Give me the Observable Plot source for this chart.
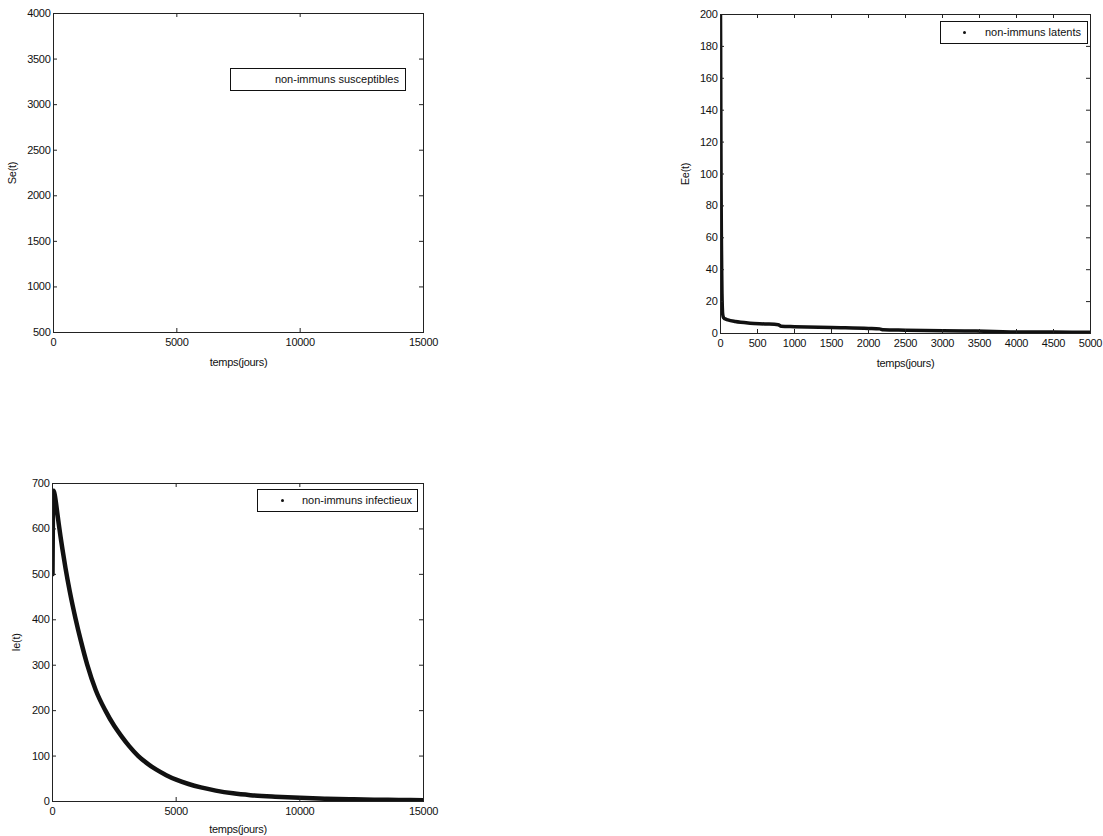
<!DOCTYPE html>
<html>
<head>
<meta charset="utf-8">
<script src="https://cdn.jsdelivr.net/npm/d3@7"></script>
<script src="https://cdn.jsdelivr.net/npm/@observablehq/plot@0.6"></script>
<style>
  html, body { margin: 0; padding: 0; background: #fff; }
  #page { position: relative; width: 1103px; height: 836px; background: #fff; font-family: "Liberation Sans", Arial, sans-serif; color: #111; overflow: hidden; }
  .panel { position: absolute; }
  .legend { position: absolute; border: 1px solid #111; background: #fff; box-sizing: border-box; font-size: 11px; line-height: 21px; white-space: nowrap; }
  .legend .dot { position: absolute; width: 3px; height: 3px; border-radius: 50%; background: #111; top: 9px; }
  .legend .txt { position: absolute; top: 0; }
</style>
</head>
<body>
<div id="page"></div>
<script>
// ---------- data ----------
// Se(t): non-immuns susceptibles (no visible curve inside the axes range)
const seTime = [];
const seValues = [];
const seXTicks = [0, 5000, 10000, 15000];
const seYTicks = [500, 1000, 1500, 2000, 2500, 3000, 3500, 4000];

// Ee(t): non-immuns latents
const eeTime   = [0, 2, 5, 8, 12, 16, 20, 25, 30, 40, 50, 70, 100, 200, 400, 600, 780, 820, 1000, 1500, 2000, 2150, 2200, 2500, 3000, 3300, 3700, 4000, 4500, 5000];
const eeValues = [200, 180, 130, 90, 60, 40, 25, 16, 12, 10, 9.5, 9, 8.5, 7.5, 6.5, 6, 5.5, 4.6, 4.3, 3.7, 3.2, 2.9, 2.3, 2.1, 1.8, 1.6, 1.3, 1.0, 0.9, 0.8];
const eeXTicks = [0, 500, 1000, 1500, 2000, 2500, 3000, 3500, 4000, 4500, 5000];
const eeYTicks = [0, 20, 40, 60, 80, 100, 120, 140, 160, 180, 200];

// Ie(t): non-immuns infectieux
const ieTime   = [0, 15, 50, 100, 170, 250, 400, 525, 700, 930, 1150, 1400, 1750, 2140, 2500, 2800, 3100, 3470, 3800, 4200, 4600, 5000, 5500, 6000, 6600, 7300, 8000, 9000, 10000, 11000, 12000, 13000, 14000, 15000];
const ieValues = [500, 620, 684, 672, 645, 612, 556, 514, 462, 403, 353, 302, 245, 200, 166, 143, 122, 100, 85, 70, 58, 48, 38.5, 31, 24, 18, 14, 10.5, 8, 6.3, 5, 4.1, 3.5, 3];
const ieXTicks = [0, 5000, 10000, 15000];
const ieYTicks = [0, 100, 200, 300, 400, 500, 600, 700];

// ---------- drawing ----------
const page = document.getElementById("page");

function panel({left, top, width, height, mL, mR, mT, mB, xDomain, yDomain, xTicks, yTicks, xLabel, yLabel, xLabelOffset, yLabelOffset, time, values, strokeWidth}) {
  const fw = width - mL - mR, fh = height - mT - mB, tk = 4;
  const rows = time.map((t, i) => ({t, v: values[i]}));
  const chart = Plot.plot({
    width, height,
    marginLeft: mL, marginRight: mR, marginTop: mT, marginBottom: mB,
    x: {domain: xDomain},
    y: {domain: yDomain},
    style: {fontSize: "11px", fontFamily: "Liberation Sans, Arial, sans-serif", color: "#111", background: "transparent", overflow: "visible", letterSpacing: "-0.3px"},
    marks: [
      Plot.line(rows, {x: "t", y: "v", stroke: "#111", strokeWidth, curve: "monotone-x", clip: true}),
      Plot.frame({stroke: "#222", strokeWidth: 1}),
      Plot.ruleX(xTicks, {x: d => d, insetTop: fh - tk, stroke: "#222"}),
      Plot.ruleX(xTicks, {x: d => d, insetBottom: fh - tk, stroke: "#222"}),
      Plot.ruleY(yTicks, {y: d => d, insetRight: fw - tk, stroke: "#222"}),
      Plot.ruleY(yTicks, {y: d => d, insetLeft: fw - tk, stroke: "#222"}),
      Plot.axisX({ticks: xTicks, tickSize: 0, tickPadding: 6, tickFormat: d3.format("d"), label: xLabel, labelAnchor: "center", labelArrow: "none", labelOffset: xLabelOffset}),
      Plot.axisY({ticks: yTicks, tickSize: 0, tickPadding: 3, tickFormat: d3.format("d"), label: yLabel, labelAnchor: "center", labelArrow: "none", labelOffset: yLabelOffset})
    ]
  });
  const div = document.createElement("div");
  div.className = "panel";
  div.style.left = left + "px";
  div.style.top = top + "px";
  div.appendChild(chart);
  page.appendChild(div);
}

function legend({left, top, width, text, dotLeft, textLeft, textRight}) {
  const box = document.createElement("div");
  box.className = "legend";
  box.style.left = left + "px";
  box.style.top = top + "px";
  box.style.width = width + "px";
  box.style.height = "23px";
  if (dotLeft != null) {
    const d = document.createElement("span");
    d.className = "dot";
    d.style.left = (dotLeft - left - 2) + "px";
    box.appendChild(d);
  }
  const t = document.createElement("span");
  t.className = "txt";
  t.textContent = text;
  if (textRight != null) t.style.right = (left + width - textRight) + "px";
  else t.style.left = (textLeft - left - 1) + "px";
  box.appendChild(t);
  page.appendChild(box);
}

// top-left: Se(t)
panel({left: 0, top: 0, width: 440, height: 375, mL: 53, mR: 17, mT: 13, mB: 43,
  xDomain: [0, 15000], yDomain: [500, 4000], xTicks: seXTicks, yTicks: seYTicks,
  xLabel: "temps(jours)", yLabel: "Se(t)", xLabelOffset: 33, yLabelOffset: 45,
  time: seTime, values: seValues, strokeWidth: 4});

// top-right: Ee(t)
panel({left: 660, top: 0, width: 443, height: 375, mL: 60, mR: 13, mT: 14, mB: 42,
  xDomain: [0, 5000], yDomain: [0, 200], xTicks: eeXTicks, yTicks: eeYTicks,
  xLabel: "temps(jours)", yLabel: "Ee(t)", xLabelOffset: 33, yLabelOffset: 39,
  time: eeTime, values: eeValues, strokeWidth: 3.5});

// bottom-left: Ie(t)
panel({left: 0, top: 470, width: 440, height: 366, mL: 52, mR: 17, mT: 13, mB: 35,
  xDomain: [0, 15000], yDomain: [0, 700], xTicks: ieXTicks, yTicks: ieYTicks,
  xLabel: "temps(jours)", yLabel: "Ie(t)", xLabelOffset: 31, yLabelOffset: 40,
  time: ieTime, values: ieValues, strokeWidth: 4.5});

legend({left: 230, top: 68, width: 176, text: "non-immuns susceptibles", textRight: 400});
legend({left: 940, top: 21, width: 148, text: "non-immuns latents", dotLeft: 964, textLeft: 985});
legend({left: 257, top: 489, width: 161, text: "non-immuns infectieux", dotLeft: 282, textLeft: 302});
</script>
</body>
</html>
